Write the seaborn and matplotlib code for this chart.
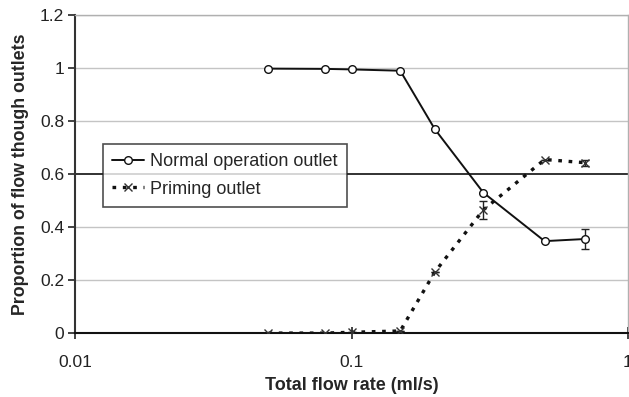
""" Proportion of flow through outlets vs total flow rate """

import matplotlib
matplotlib.use('Agg')
import matplotlib.pyplot as plt
import numpy as np
import pandas as pd
import seaborn as sns

FLOW_RATE = [0.05, 0.08, 0.1, 0.15, 0.2, 0.3, 0.5, 0.7]
NORMAL = [0.998, 0.997, 0.995, 0.99, 0.77, 0.53, 0.347, 0.355]
NORMAL_ERR = [0, 0, 0, 0, 0, 0, 0, 0.037]
PRIMING = [0.0, 0.0, 0.003, 0.008, 0.23, 0.465, 0.655, 0.643]
PRIMING_ERR = [0, 0, 0, 0, 0, 0.035, 0, 0.012]
Y_TICKS = [0, 0.2, 0.4, 0.6, 0.8, 1, 1.2]
X_TICKS = [0.01, 0.1, 1]

sns.set_style('white')
plt.rcParams['font.family'] = ['Liberation Sans', 'DejaVu Sans']

df = pd.DataFrame({'rate': FLOW_RATE, 'normal': NORMAL, 'priming': PRIMING})

fig = plt.figure(figsize=(6.29, 3.97), dpi=100)
ax = fig.add_axes([0.12, 0.161, 0.878, 0.801])

for y in Y_TICKS:
    if y in (0, 0.6):
        continue
    ax.axhline(y, color='#c4c4c4', lw=1, zorder=0)
ax.axhline(0.6, color='#222222', lw=1.3, zorder=0)

sns.lineplot(data=df, x='rate', y='normal', ax=ax, color='#111111', lw=1.4,
             marker='o', markersize=5.5, markerfacecolor='white',
             markeredgecolor='#111111', markeredgewidth=1,
             label='Normal operation outlet', zorder=3)
sns.lineplot(data=df, x='rate', y='priming', ax=ax, color='#111111', lw=2.4,
             marker='x', markersize=5.5, markeredgewidth=1,
             markeredgecolor='#333333',
             label='Priming outlet', zorder=3)
ax.lines[-1].set_dashes((1.1, 2.0))

ax.errorbar(FLOW_RATE, NORMAL, yerr=NORMAL_ERR, fmt='none', ecolor='#222222',
            elinewidth=1, capsize=3, zorder=2)
ax.errorbar(FLOW_RATE, PRIMING, yerr=PRIMING_ERR, fmt='none', ecolor='#222222',
            elinewidth=1, capsize=3, zorder=2)

ax.set_xscale('log')
ax.set_xlim(0.01, 1)
ax.set_ylim(0, 1.2)
ax.set_xticks(X_TICKS)
ax.set_xticklabels(['0.01', '0.1', '1'])
ax.xaxis.set_minor_locator(matplotlib.ticker.NullLocator())
ax.set_yticks(Y_TICKS)
ax.set_yticklabels(['0', '0.2', '0.4', '0.6', '0.8', '1', '1.2'])
ax.tick_params(axis='y', which='major', direction='out', length=5, width=1.2,
               labelsize=12.5, colors='#222222', pad=3, left=True)
ax.tick_params(axis='x', which='major', direction='inout', length=8, width=1.2,
               labelsize=12.5, colors='#222222', pad=12, bottom=True)

for side in ['top', 'right']:
    ax.spines[side].set_color('#b0b0b0')
    ax.spines[side].set_linewidth(1)
ax.spines['left'].set_color('#333333')
ax.spines['left'].set_linewidth(1.5)
ax.spines['bottom'].set_color('#111111')
ax.spines['bottom'].set_linewidth(1.5)

ax.set_xlabel('Total flow rate (ml/s)', fontsize=13, fontweight='bold', labelpad=5)
ax.set_ylabel('Proportion of flow though outlets', fontsize=12.8, fontweight='bold',
              labelpad=8)

leg = ax.legend(loc='upper left', bbox_to_anchor=(0.05, 0.595), fontsize=13,
                frameon=True, fancybox=False, edgecolor='#222222',
                handlelength=1.75, handletextpad=0.35, borderpad=0.5,
                labelspacing=0.6, borderaxespad=0)
leg.get_frame().set_linewidth(1.2)
leg.set_zorder(5)

fig.savefig('out.png', dpi=100, facecolor='white')
